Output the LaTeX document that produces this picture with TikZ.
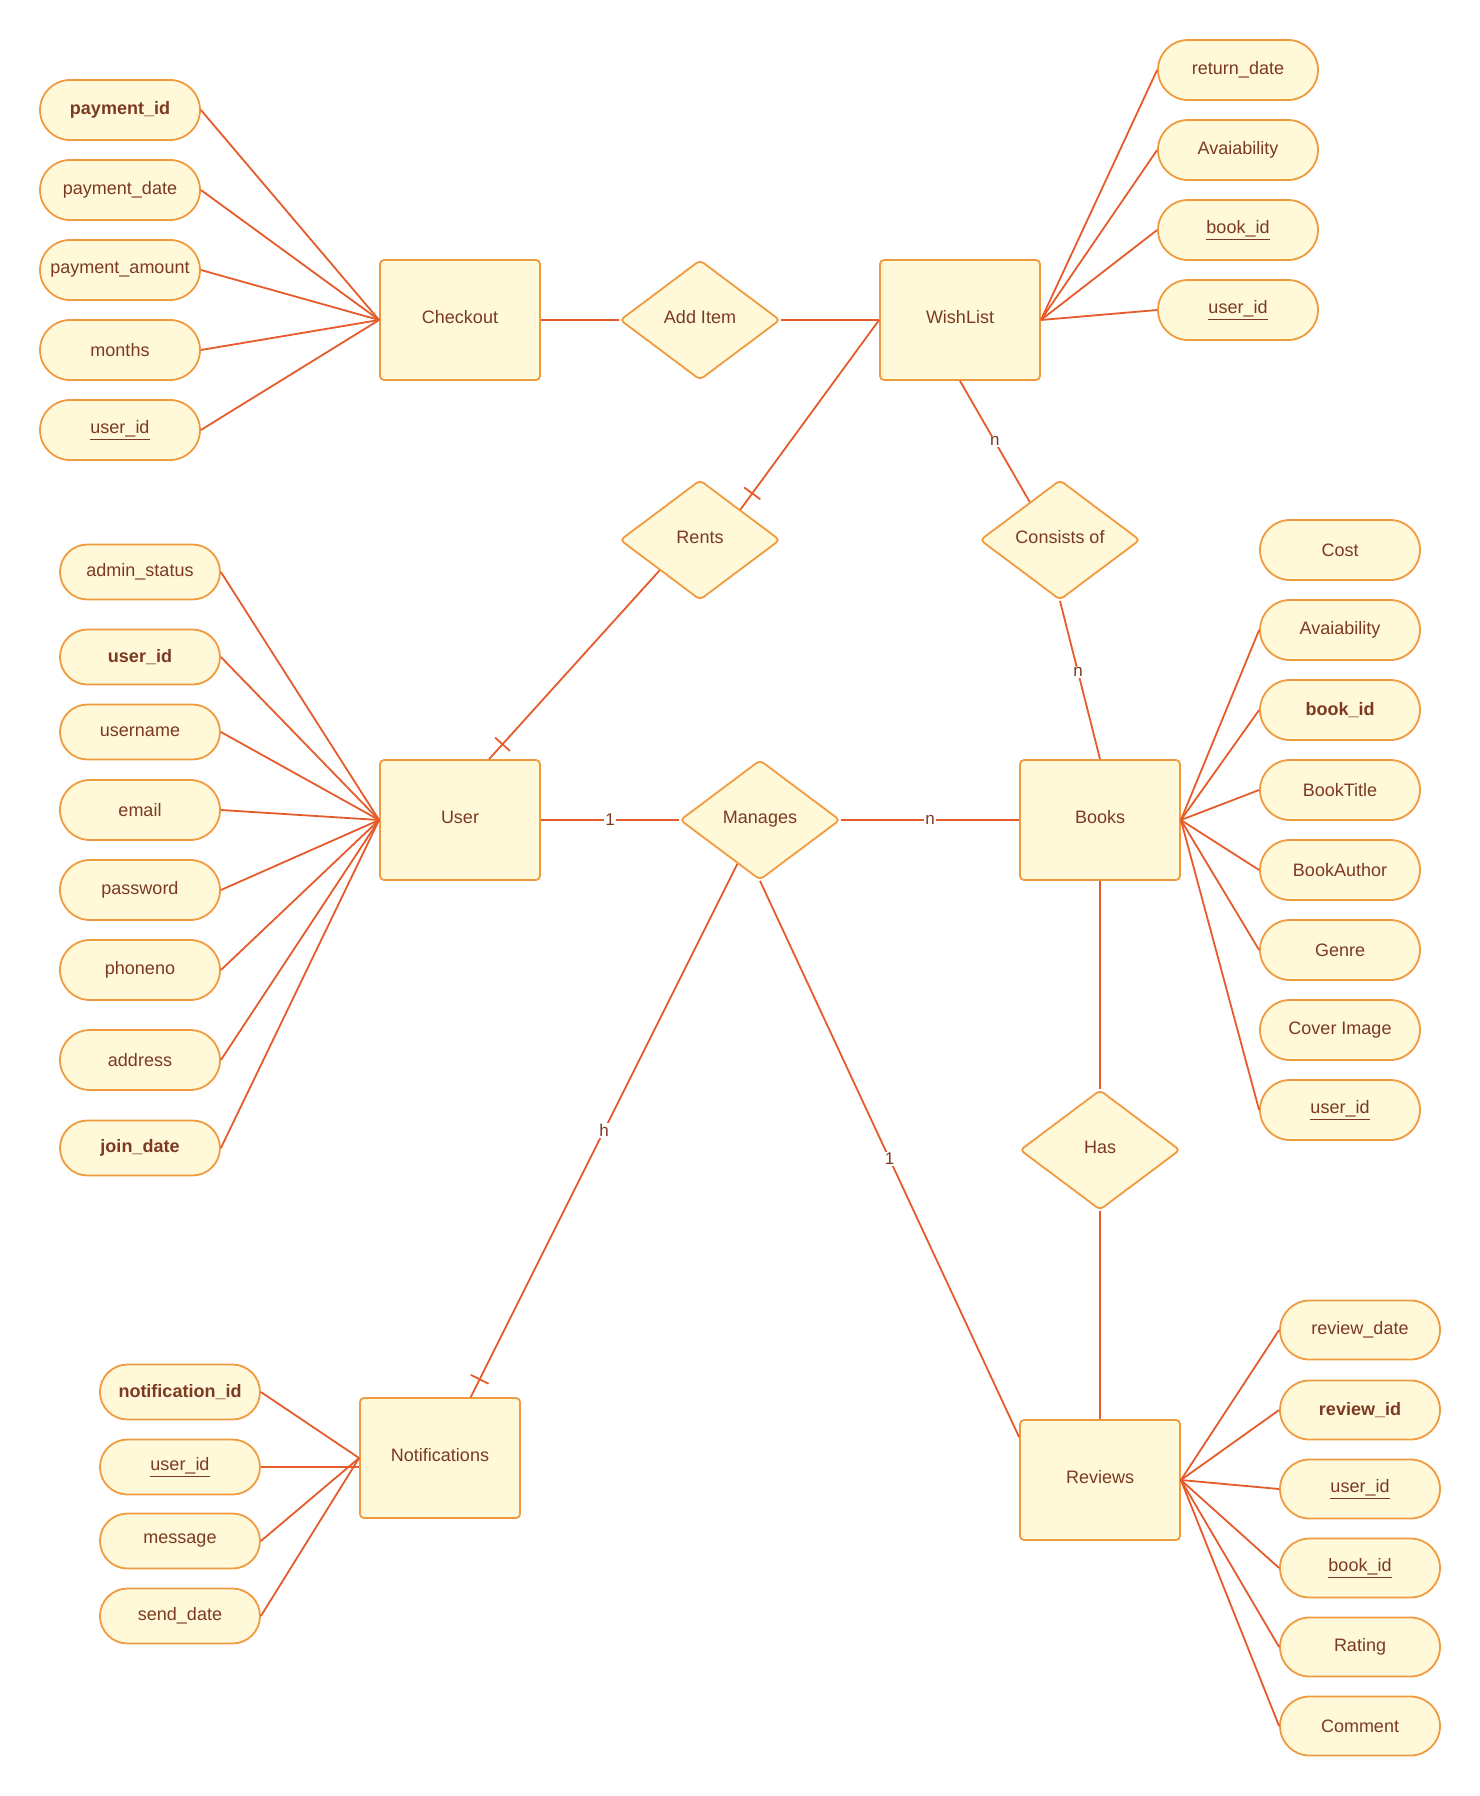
\documentclass[tikz,border=0pt]{standalone}
\usepackage{fontspec}
\setmainfont{Liberation Sans}
\usetikzlibrary{shapes.geometric,shapes.misc,calc}
\definecolor{fillc}{HTML}{FFF8D9}
\definecolor{bordc}{HTML}{F09B3F}
\definecolor{linec}{HTML}{E55B2C}
\definecolor{textc}{HTML}{7C3A22}
\begin{document}
\begin{tikzpicture}[x=1pt,y=-1pt, font=\fontsize{18}{21}\selectfont,
 ent/.style={draw=bordc, fill=fillc, line width=1.8pt, rounded corners=4pt, minimum width=160pt, minimum height=120pt, text=textc, inner sep=0pt, text height=13pt, text depth=6pt},
 rel/.style={diamond, draw=bordc, fill=fillc, line width=1.8pt, rounded corners=4pt, minimum width=160pt, minimum height=120pt, text=textc, inner sep=0pt, text height=13pt, text depth=6pt},
 attr/.style={rounded rectangle, draw=bordc, fill=fillc, line width=1.8pt, minimum width=160pt, minimum height=60pt, text=textc, inner sep=0pt},
 attrs/.style={attr, minimum height=55pt},
 attrr/.style={attr, minimum height=59pt},
 key/.style={font=\fontsize{18}{21}\selectfont\bfseries},
 conn/.style={draw=linec, line width=1.8pt},
 thk/.style={draw=linec, line width=2.8pt},
 card/.style={fill=white, text=textc, inner sep=1pt, font=\fontsize{17}{20}\selectfont},
]
\useasboundingbox (0,0) rectangle (1480,1796);

% ---------- Checkout ----------
\node[attr,key] (cpid) at (120,110) {payment\_id};
\node[attr] (cpdate) at (120,190) {payment\_date};
\node[attr] (cpamt) at (120,270) {payment\_amount};
\node[attr] (cmon) at (120,350) {months};
\node[attr] (cuid) at (120,430) {\underline{user\_id}};
\node[ent] (checkout) at (460,320) {Checkout};
\node[rel] (additem) at (700,320) {Add Item};
\node[ent] (wishlist) at (960,320) {WishList};

% ---------- WishList attributes ----------
\node[attr] (wret) at (1238,70) {return\_date};
\node[attr] (wava) at (1238,150) {Avaiability};
\node[attr] (wbid) at (1238,230) {\underline{book\_id}};
\node[attr] (wuid) at (1238,310) {\underline{user\_id}};

\node[rel] (rents) at (700,540) {Rents};
\node[rel] (consists) at (1060,540) {Consists of};

% ---------- User ----------
\node[attrs] (uadm) at (140,572) {admin\_status};
\node[attrs,key] (uuid) at (140,657) {user\_id};
\node[attrs] (uname) at (140,732) {username};
\node[attr] (umail) at (140,810) {email};
\node[attr] (upass) at (140,890) {password};
\node[attr] (uphone) at (140,970) {phoneno};
\node[attr] (uaddr) at (140,1060) {address};
\node[attrs,key] (ujoin) at (140,1148) {join\_date};
\node[ent] (user) at (460,820) {User};
\node[rel] (manages) at (760,820) {Manages};
\node[ent] (books) at (1100,820) {Books};

% ---------- Books attributes ----------
\node[attr] (bcost) at (1340,550) {Cost};
\node[attr] (bava) at (1340,630) {Avaiability};
\node[attr,key] (bbid) at (1340,710) {book\_id};
\node[attr] (btitle) at (1340,790) {BookTitle};
\node[attr] (bauth) at (1340,870) {BookAuthor};
\node[attr] (bgenre) at (1340,950) {Genre};
\node[attr] (bcover) at (1340,1030) {Cover Image};
\node[attr] (buid) at (1340,1110) {\underline{user\_id}};

\node[rel] (has) at (1100,1150) {Has};

% ---------- Notifications ----------
\node[attrs,key] (nnid) at (180,1392) {notification\_id};
\node[attrs] (nuid) at (180,1467) {\underline{user\_id}};
\node[attrs] (nmsg) at (180,1541) {message};
\node[attrs] (nsend) at (180,1616) {send\_date};
\node[ent] (notif) at (440,1458) {Notifications};

% ---------- Reviews ----------
\node[ent] (reviews) at (1100,1480) {Reviews};
\node[attrr] (rdate) at (1360,1330) {review\_date};
\node[attrr,key] (rrid) at (1360,1410) {review\_id};
\node[attrr] (ruid) at (1360,1489) {\underline{user\_id}};
\node[attrr] (rbid) at (1360,1568) {\underline{book\_id}};
\node[attrr] (rrate) at (1360,1647) {Rating};
\node[attrr] (rcom) at (1360,1726) {Comment};

% ---------- helper coordinates ----------
\coordinate (utop) at ($(user.north west)!0.68!(user.north east)$);
\coordinate (ntop) at ($(notif.north west)!0.69!(notif.north east)$);
\coordinate (mlow) at ($(manages.south west)!0.44!(manages.south)$);
\coordinate (cpt) at ($(consists.west)!0.625!(consists.north)$);
\coordinate (rpt) at ($(reviews.north west)+(0,18)$);

% ---------- attribute connectors ----------
\foreach \a in {cpid,cpdate,cpamt,cmon,cuid} \draw[conn] (\a.east) -- (checkout.west);
\foreach \a in {wret,wava,wbid,wuid} \draw[conn] (\a.west) -- (wishlist.east);
\foreach \a in {uadm,uuid,uname,umail,upass,uphone,uaddr,ujoin} \draw[conn] (\a.east) -- (user.west);
\foreach \a in {bava,bbid,btitle,bauth,bgenre,buid} \draw[conn] (\a.west) -- (books.east);
\foreach \a in {nnid,nmsg,nsend} \draw[conn] (\a.east) -- (notif.west);
\draw[conn] (nuid.east) -- (nuid.east -| notif.west);
\foreach \a in {rdate,rrid,ruid,rbid,rrate,rcom} \draw[conn] (\a.west) -- (reviews.east);

% ---------- relationship connectors ----------
\draw[conn] (checkout.east) -- (additem.west);
\draw[conn] (additem.east) -- (wishlist.west);
\draw[conn] (wishlist.west) -- (rents.north east);
\draw[conn] (rents.south west) -- (utop);
\draw[conn] (wishlist.south) -- node[card]{n} (cpt);
\draw[conn] (consists.south) -- node[card,pos=0.45]{n} (books.north);
\draw[thk] (user.east) -- node[card]{1} (manages.west);
\draw[thk] (manages.east) -- node[card]{n} (books.west);
\draw[conn] (mlow) -- node[card]{h} (ntop);
\draw[conn] (manages.south) -- node[card]{1} (rpt);
\draw[conn] (books.south) -- (has.north);
\draw[conn] (has.south) -- (reviews.north);

% ---------- "one" ticks ----------
\coordinate (t1) at ($(rents.north east)!20pt!(wishlist.west)$);
\draw[conn] ($(t1)!10pt!90:(rents.north east)$) -- ($(t1)!10pt!-90:(rents.north east)$);
\coordinate (t2) at ($(utop)!20pt!(rents.south west)$);
\draw[conn] ($(t2)!10pt!90:(utop)$) -- ($(t2)!10pt!-90:(utop)$);
\coordinate (t3) at ($(ntop)!20pt!(mlow)$);
\draw[conn] ($(t3)!10pt!90:(ntop)$) -- ($(t3)!10pt!-90:(ntop)$);
\end{tikzpicture}
\end{document}
